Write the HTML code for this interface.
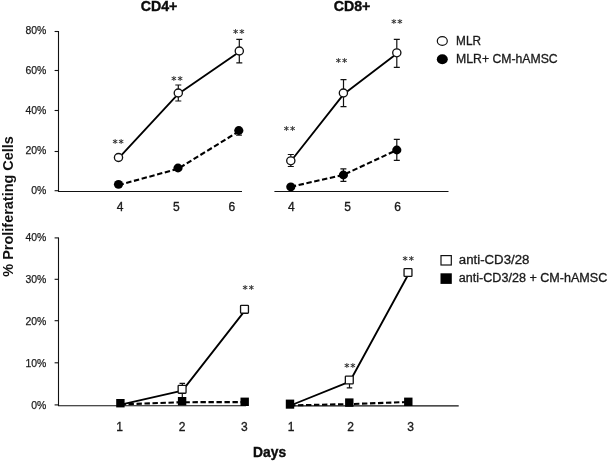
<!DOCTYPE html>
<html lang="en">
<head>
<meta charset="utf-8">
<title>Proliferating Cells</title>
<style>
html,body{margin:0;padding:0;background:#fff;}
body{width:609px;height:461px;overflow:hidden;}
svg{display:block;will-change:transform;}
text{font-family:"Liberation Sans",sans-serif;fill:#1a1a1a;}
.yl{font-size:11.4px;stroke:#1a1a1a;stroke-width:0.25px;}
.xl{font-size:13px;stroke:#1a1a1a;stroke-width:0.35px;}
.ttl{font-size:14.6px;font-weight:bold;fill:#0c0c0c;stroke:#0c0c0c;stroke-width:0.4px;}
.ytl{font-size:14.6px;font-weight:bold;fill:#111;}
.lg{font-size:12px;stroke:#1a1a1a;stroke-width:0.3px;}
.st{font-family:"DejaVu Sans","Liberation Sans",sans-serif;font-size:10px;font-weight:bold;fill:#333;}
.ax{stroke:#111;stroke-width:1.1;fill:none;}
.ln{stroke:#000;stroke-width:1.85;fill:none;stroke-linejoin:round;}
.dl{stroke:#000;stroke-width:2.1;fill:none;stroke-dasharray:5.4 2.6;}
</style>
</head>
<body>
<svg width="609" height="461" viewBox="0 0 609 461">
<rect width="609" height="461" fill="#fff"/>

<text x="159" y="11" class="ttl" text-anchor="middle" textLength="36.6" lengthAdjust="spacingAndGlyphs">CD4+</text>
<text x="352" y="11" class="ttl" text-anchor="middle" textLength="36.6" lengthAdjust="spacingAndGlyphs">CD8+</text>
<text x="269.6" y="457" class="ttl" text-anchor="middle" textLength="33" lengthAdjust="spacingAndGlyphs">Days</text>
<text transform="translate(13.4 206.4) rotate(-90)" class="ytl" text-anchor="middle" textLength="140.5" lengthAdjust="spacingAndGlyphs">% Proliferating Cells</text>
<g id="tl">
<path class="ax" d="M58.5 31V191.5H242"/>
<path class="ax" d="M54.6 31.5H58.5"/>
<text x="46.4" y="34.1" class="yl" text-anchor="end" textLength="20.9" lengthAdjust="spacingAndGlyphs">80%</text>
<path class="ax" d="M54.6 70.5H58.5"/>
<text x="46.4" y="74.1" class="yl" text-anchor="end" textLength="20.9" lengthAdjust="spacingAndGlyphs">60%</text>
<path class="ax" d="M54.6 110.5H58.5"/>
<text x="46.4" y="114.1" class="yl" text-anchor="end" textLength="20.9" lengthAdjust="spacingAndGlyphs">40%</text>
<path class="ax" d="M54.6 151.5H58.5"/>
<text x="46.4" y="154.1" class="yl" text-anchor="end" textLength="20.9" lengthAdjust="spacingAndGlyphs">20%</text>
<path class="ax" d="M54.6 190.7H58.5"/>
<text x="46.4" y="194.1" class="yl" text-anchor="end" textLength="15.1" lengthAdjust="spacingAndGlyphs">0%</text>
<text x="120" y="211.1" class="xl" text-anchor="middle" textLength="6.7" lengthAdjust="spacingAndGlyphs">4</text>
<text x="176.3" y="211.1" class="xl" text-anchor="middle" textLength="6.7" lengthAdjust="spacingAndGlyphs">5</text>
<text x="231.8" y="211.1" class="xl" text-anchor="middle" textLength="6.7" lengthAdjust="spacingAndGlyphs">6</text>
<path class="dl" d="M118.5 185.1L178 168.8L238.8 131.4"/>
<path class="ln" d="M118.7 158.2L178.5 93.7L239.5 51.7"/>
<path d="M178.3 85V101M175.3 85H181.3M175.3 101H181.3" stroke="#111" stroke-width="1.2" fill="none"/>
<path d="M239.3 39.3V62.8M236.3 39.3H242.3M236.3 62.8H242.3" stroke="#111" stroke-width="1.2" fill="none"/>
<path d="M239 130.5V135.2M236.1 130.5H241.9M236.1 135.2H241.9" stroke="#111" stroke-width="1.2" fill="none"/>
<ellipse cx="118.5" cy="184.3" rx="4.6" ry="4.4" fill="#000"/>
<ellipse cx="178" cy="168" rx="4.6" ry="4.4" fill="#000"/>
<ellipse cx="238.8" cy="130.5" rx="4.6" ry="4.4" fill="#000"/>
<ellipse cx="118.5" cy="157.5" rx="4.1" ry="4.0" fill="#fff" stroke="#111" stroke-width="1.35"/>
<ellipse cx="178.3" cy="93" rx="4.1" ry="4.0" fill="#fff" stroke="#111" stroke-width="1.35"/>
<ellipse cx="239.3" cy="51" rx="4.1" ry="4.0" fill="#fff" stroke="#111" stroke-width="1.35"/>
<text x="118.1" y="147" class="st" text-anchor="middle" textLength="11.4" lengthAdjust="spacing">**</text>
<text x="177.0" y="84" class="st" text-anchor="middle" textLength="11.4" lengthAdjust="spacing">**</text>
<text x="238.8" y="37" class="st" text-anchor="middle" textLength="11.4" lengthAdjust="spacing">**</text>
</g>
<g id="tr">
<path class="ax" d="M274.4 191.5H448.5"/>
<text x="291.3" y="211.1" class="xl" text-anchor="middle" textLength="6.7" lengthAdjust="spacingAndGlyphs">4</text>
<text x="347.5" y="211.1" class="xl" text-anchor="middle" textLength="6.7" lengthAdjust="spacingAndGlyphs">5</text>
<text x="397.5" y="211.1" class="xl" text-anchor="middle" textLength="6.7" lengthAdjust="spacingAndGlyphs">6</text>
<path class="dl" d="M290.8 186.8L343.1 175L396.8 150"/>
<path class="ln" d="M290.8 161.3L343.9 93.9L397 53.6"/>
<path d="M290.8 154.5V166.5M287.8 154.5H293.8M287.8 166.5H293.8" stroke="#111" stroke-width="1.2" fill="none"/>
<path d="M343.5 79.6V106.7M340.5 79.6H346.5M340.5 106.7H346.5" stroke="#111" stroke-width="1.2" fill="none"/>
<path d="M396.8 39.3V67.3M393.8 39.3H399.8M393.8 67.3H399.8" stroke="#111" stroke-width="1.2" fill="none"/>
<path d="M343.4 168.8V181.3M340.4 168.8H346.4M340.4 181.3H346.4" stroke="#111" stroke-width="1.2" fill="none"/>
<path d="M396.8 139.3V160.3M393.8 139.3H399.8M393.8 160.3H399.8" stroke="#111" stroke-width="1.2" fill="none"/>
<ellipse cx="290.8" cy="186.8" rx="4.6" ry="4.4" fill="#000"/>
<ellipse cx="343.4" cy="175" rx="4.6" ry="4.4" fill="#000"/>
<ellipse cx="396.8" cy="150" rx="4.6" ry="4.4" fill="#000"/>
<ellipse cx="290.8" cy="160.8" rx="4.1" ry="4.0" fill="#fff" stroke="#111" stroke-width="1.35"/>
<ellipse cx="343.4" cy="93" rx="4.1" ry="4.0" fill="#fff" stroke="#111" stroke-width="1.35"/>
<ellipse cx="396.8" cy="52.8" rx="4.1" ry="4.0" fill="#fff" stroke="#111" stroke-width="1.35"/>
<text x="289.5" y="134" class="st" text-anchor="middle" textLength="11.4" lengthAdjust="spacing">**</text>
<text x="341.5" y="66" class="st" text-anchor="middle" textLength="11.4" lengthAdjust="spacing">**</text>
<text x="396.9" y="27" class="st" text-anchor="middle" textLength="11.4" lengthAdjust="spacing">**</text>
<ellipse cx="442.3" cy="41" rx="5" ry="4.4" fill="#fff" stroke="#111" stroke-width="1.2"/>
<ellipse cx="442.3" cy="59.2" rx="5.5" ry="5" fill="#000"/>
<text x="456.1" y="45" class="lg" textLength="24.9" lengthAdjust="spacingAndGlyphs">MLR</text>
<text x="456.1" y="63" class="lg" textLength="101.6" lengthAdjust="spacingAndGlyphs">MLR+ CM-hAMSC</text>
</g>
<g id="bl">
<path class="ax" d="M58.5 237.4V405.8H246"/>
<path class="ax" d="M54.6 237.9H58.5"/>
<text x="46.4" y="241.1" class="yl" text-anchor="end" textLength="20.9" lengthAdjust="spacingAndGlyphs">40%</text>
<path class="ax" d="M54.6 279.3H58.5"/>
<text x="46.4" y="283.0" class="yl" text-anchor="end" textLength="20.9" lengthAdjust="spacingAndGlyphs">30%</text>
<path class="ax" d="M54.6 320.7H58.5"/>
<text x="46.4" y="324.9" class="yl" text-anchor="end" textLength="20.9" lengthAdjust="spacingAndGlyphs">20%</text>
<path class="ax" d="M54.6 362.8H58.5"/>
<text x="46.4" y="366.8" class="yl" text-anchor="end" textLength="20.9" lengthAdjust="spacingAndGlyphs">10%</text>
<path class="ax" d="M54.6 404.9H58.5"/>
<text x="46.4" y="408.7" class="yl" text-anchor="end" textLength="15.1" lengthAdjust="spacingAndGlyphs">0%</text>
<text x="119.7" y="430.8" class="xl" text-anchor="middle" textLength="6.7" lengthAdjust="spacingAndGlyphs">1</text>
<text x="182" y="430.8" class="xl" text-anchor="middle" textLength="6.7" lengthAdjust="spacingAndGlyphs">2</text>
<text x="244.4" y="430.8" class="xl" text-anchor="middle" textLength="6.7" lengthAdjust="spacingAndGlyphs">3</text>
<path class="dl" d="M120.5 404.4L182 402.2L245 402.1"/>
<path class="ln" d="M120.9 404.6L182.4 390.6L244.9 310.6"/>
<path d="M182.3 383.4V398M179.55 383.4H185.05M179.55 398H185.05" stroke="#111" stroke-width="1.2" fill="none"/>
<rect x="116.20" y="399.00" width="8.4" height="8.4" fill="#000"/>
<rect x="177.90" y="397.00" width="8.4" height="8.4" fill="#000"/>
<rect x="240.50" y="397.60" width="8.4" height="8.4" fill="#000"/>
<rect x="178.15" y="385.35" width="7.9" height="7.9" rx="0.7" fill="#fff" stroke="#111" stroke-width="1.3"/>
<rect x="240.55" y="305.35" width="7.9" height="7.9" rx="0.7" fill="#fff" stroke="#111" stroke-width="1.3"/>
<text x="248.3" y="293" class="st" text-anchor="middle" textLength="11.4" lengthAdjust="spacing">**</text>
</g>
<g id="br">
<path class="ax" d="M287 405.9H458.7"/>
<text x="291" y="430.8" class="xl" text-anchor="middle" textLength="6.7" lengthAdjust="spacingAndGlyphs">1</text>
<text x="350.7" y="430.8" class="xl" text-anchor="middle" textLength="6.7" lengthAdjust="spacingAndGlyphs">2</text>
<text x="410.6" y="430.8" class="xl" text-anchor="middle" textLength="6.7" lengthAdjust="spacingAndGlyphs">3</text>
<path class="dl" d="M290 405.4L349.3 404.1L408.3 402"/>
<path class="ln" d="M290.4 405.5L349.7 381.7L408.4 274.2"/>
<path d="M349.5 380V387.8M346.75 380H352.25M346.75 387.8H352.25" stroke="#111" stroke-width="1.2" fill="none"/>
<rect x="285.8" y="399.6" width="8.4" height="9.1" fill="#000"/>
<rect x="345.10" y="398.40" width="8.4" height="8.4" fill="#000"/>
<rect x="404.10" y="397.60" width="8.4" height="8.4" fill="#000"/>
<rect x="345.35" y="376.05" width="7.9" height="7.9" rx="0.7" fill="#fff" stroke="#111" stroke-width="1.3"/>
<rect x="404.05" y="268.55" width="7.9" height="7.9" rx="0.7" fill="#fff" stroke="#111" stroke-width="1.3"/>
<text x="349.9" y="371" class="st" text-anchor="middle" textLength="11.4" lengthAdjust="spacing">**</text>
<text x="408.3" y="264" class="st" text-anchor="middle" textLength="11.4" lengthAdjust="spacing">**</text>
<rect x="441" y="255.6" width="10.3" height="9.4" fill="#fff" stroke="#111" stroke-width="1.2"/>
<rect x="440.5" y="273.3" width="11.3" height="10.6" fill="#000"/>
<text x="458.8" y="264" class="lg" textLength="70.6" lengthAdjust="spacingAndGlyphs">anti-CD3/28</text>
<text x="458.8" y="282" class="lg" textLength="148.5" lengthAdjust="spacingAndGlyphs">anti-CD3/28 + CM-hAMSC</text>
</g>
</svg>
</body>
</html>
